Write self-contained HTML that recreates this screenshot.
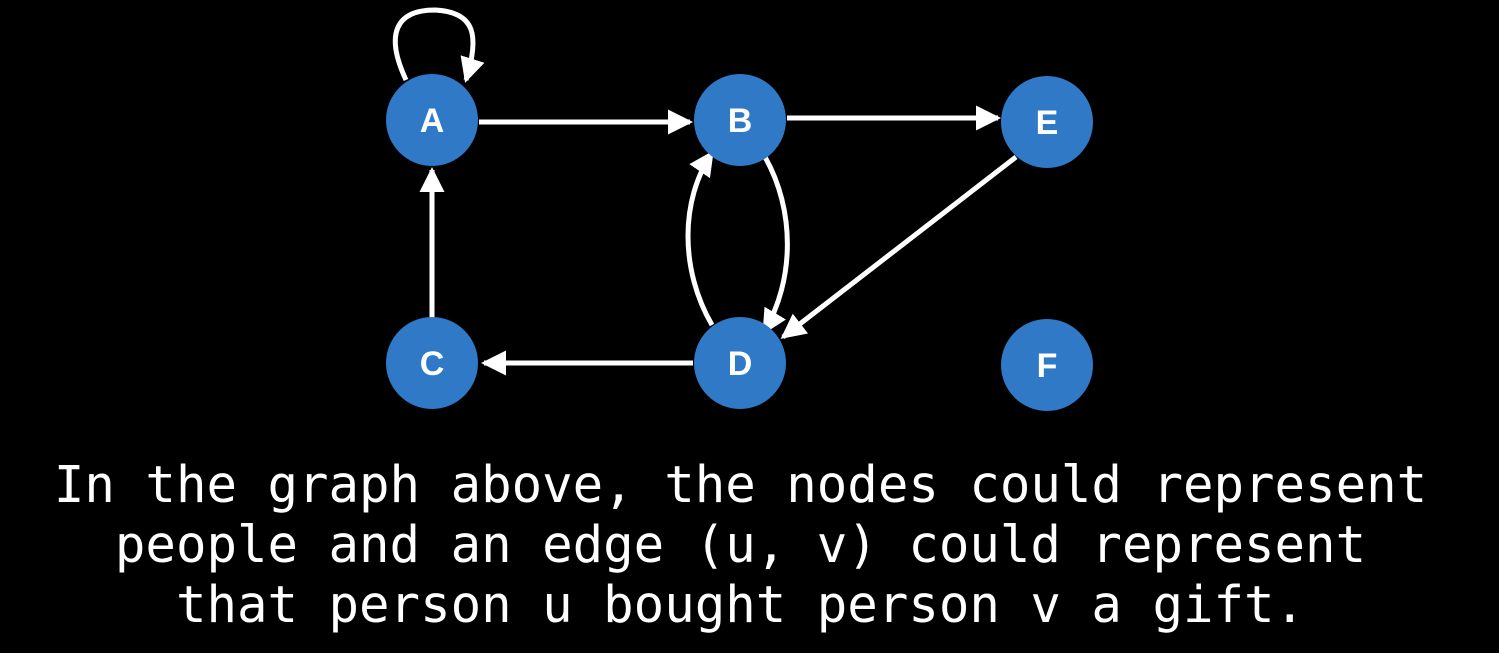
<!DOCTYPE html>
<html><head><meta charset="utf-8"><style>
html,body{margin:0;padding:0;background:#000;}
body{width:1499px;height:653px;overflow:hidden;position:relative;}
.t{position:absolute;left:-9px;width:1499px;text-align:center;color:#fff;font-family:"DejaVu Sans Mono","Liberation Mono",monospace;font-size:50.7px;line-height:60px;white-space:pre;}
</style></head><body>
<svg width="1499" height="653" style="position:absolute;left:0;top:0">
<defs><marker id="ar" markerWidth="5" markerHeight="5" refX="4.4" refY="2.5" orient="auto" markerUnits="strokeWidth">
<path d="M0,0 L5,2.5 L0,5 z" fill="#fff"/></marker></defs>
<g stroke="#fff" stroke-width="5" fill="none" marker-end="url(#ar)">
<path d="M406,80 C385,35 395,10 435,10 C475,12 480,35 466,80"/>
<path d="M479,122 L690,122"/>
<path d="M787,118 L998,118"/>
<path d="M432,318 L432,170"/>
<path d="M693,363 L484,363"/>
<path d="M712,325 C680,270 680,200 712,153"/>
<path d="M765,157 C795,210 795,280 764,332"/>
<path d="M1016,157 L783,337"/>
</g>
<g fill="#2f79c7">
<circle cx="432" cy="120" r="46"/><circle cx="740" cy="120" r="46"/><circle cx="1047" cy="122" r="46"/>
<circle cx="432" cy="363" r="46"/><circle cx="740" cy="363" r="46"/><circle cx="1047" cy="365" r="46"/>
</g>
<g fill="#fff" font-family="Liberation Sans,sans-serif" font-weight="bold" font-size="34" text-anchor="middle">
<text x="432" y="132">A</text><text x="740" y="132">B</text><text x="1047" y="134">E</text>
<text x="432" y="375">C</text><text x="740" y="375">D</text><text x="1047" y="377">F</text>
</g>
</svg>
<div class="t" style="top:455px">In the graph above, the nodes could represent
people and an edge (u, v) could represent
that person u bought person v a gift.</div>
</body></html>
